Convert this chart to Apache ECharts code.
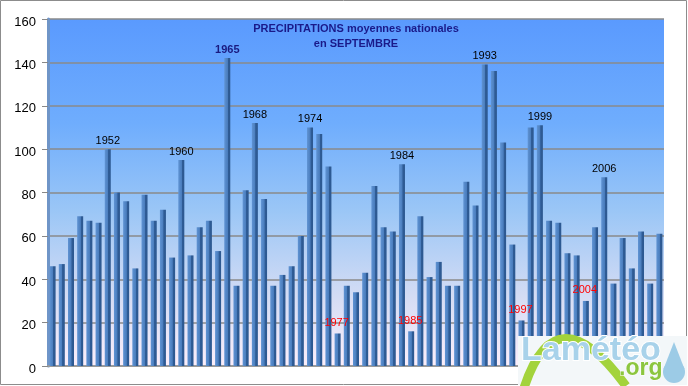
<!DOCTYPE html>
<html><head><meta charset="utf-8">
<script src="https://cdn.jsdelivr.net/npm/echarts@6/dist/echarts.min.js"></script>
<style>html,body{margin:0;padding:0;background:#fff}#c{width:688px;height:386px}</style>
</head><body><div id="c"></div>
<script>
const years = ['1946','1947','1948','1949','1950','1951','1952','1953','1954','1955','1956','1957','1958','1959','1960','1961','1962','1963','1964','1965','1966','1967','1968','1969','1970','1971','1972','1973','1974','1975','1976','1977','1978','1979','1980','1981','1982','1983','1984','1985','1986','1987','1988','1989','1990','1991','1992','1993','1994','1995','1996','1997','1998','1999','2000','2001','2002','2003','2004','2005','2006','2007','2008','2009','2010','2011','2012'];
const precip = [46,47,59,69,67,66,100,80,76,45,79,67,72,50,95,51,64,67,53,142,37,81,112,77,37,42,46,60,110,107,92,15,37,34,43,83,64,62,93,16,69,41,48,37,37,85,74,139,136,103,56,21,110,111,67,66,52,51,30,64,87,38,59,45,62,38,61];
const wetYears = ['1952','1960','1965','1968','1974','1984','1993','1999','2006'];
const dryYears = ['1977','1985','1997','2004'];
const recordYear = '1965';
const yTicks = [0,20,40,60,80,100,120,140,160];

const chart = echarts.init(document.getElementById('c'), null, {renderer:'canvas'});
const barColor = new echarts.graphic.LinearGradient(0,0,1,0,[
  {offset:0,color:'#5f93d3'},{offset:0.55,color:'#4a7dbd'},{offset:0.62,color:'#2f5c96'},{offset:1,color:'#2c5890'}
]);
const data = precip.map((v,i)=>{
  const y = years[i];
  const d = {value:v};
  if (wetYears.includes(y)) {
    d.label = {show:true,position:'top',distance:3,formatter:y,
      color: y===recordYear ? '#1a1a80' : '#000',
      fontWeight: y===recordYear ? 'bold' : 'normal',
      fontSize:11,fontFamily:'Liberation Sans, Arial, sans-serif'};
  } else if (dryYears.includes(y)) {
    d.label = {show:true,position:'top',distance:5,offset:[-1,0],formatter:y,
      color:'#ff0000',fontSize:11,fontFamily:'Liberation Sans, Arial, sans-serif'};
  }
  return d;
});

chart.setOption({
  animation:false,
  title:{text:'PRECIPITATIONS moyennes nationales\nen SEPTEMBRE',left:351,top:16,textAlign:'center',
    textStyle:{fontSize:11,fontWeight:'bold',color:'#1a1a8a',lineHeight:15,fontFamily:'Liberation Sans, Arial, sans-serif'}},
  grid:{left:48,right:24,top:19,bottom:20,show:true,borderWidth:0,
    backgroundColor:new echarts.graphic.LinearGradient(0,0,0,1,[
      {offset:0,color:'#5a9afe'},{offset:0.3,color:'#6fadfd'},{offset:0.55,color:'#9ac6f6'},{offset:0.8,color:'#d4dcf4'},{offset:1,color:'#fbeefa'}
    ])},
  xAxis:{type:'category',data:years,boundaryGap:true,
    axisLabel:{show:false},axisTick:{show:false},
    axisLine:{show:true,lineStyle:{color:'#9a9a9a',width:2}}},
  yAxis:{type:'value',min:0,max:160,interval:20,
    axisLabel:{margin:12,
      formatter:(v)=>yTicks.includes(v)?'{t|'+v+'}':'',
      rich:{t:{color:'#000',fontSize:13,padding:[6,0,0,0],fontFamily:'Liberation Sans, Arial, sans-serif'}}},
    axisTick:{show:true,length:6,lineStyle:{color:'#888'}},
    axisLine:{show:true,lineStyle:{color:'#6f95c8',width:3}},
    splitLine:{show:true,lineStyle:{color:'#8a8a8a',width:1.5}}},
  series:[{type:'bar',data:data,barWidth:6,itemStyle:{color:barColor},z:3}],
  graphic:[
    {type:'rect',shape:{x:0.5,y:0.5,width:686,height:384},style:{fill:'none',stroke:'#8c8c8c',lineWidth:1},z:-1,silent:true},
    {type:'rect',shape:{x:518,y:336,width:169,height:49},style:{fill:'#f3f7f9'},z:100,silent:true},
    {type:'bezierCurve',shape:{x1:524,y1:388,x2:626,y2:386,cpx1:556,cpy1:290},style:{fill:'none',stroke:'#a3d33c',lineWidth:9},z:101,silent:true},
    {type:'text',style:{text:'Lamétéo',x:521,y:334,font:'bold 34px Liberation Sans, Arial, sans-serif',fill:'#a8d2ea',stroke:'#ffffff',lineWidth:2},z:102,silent:true},
    {type:'text',style:{text:'.org',x:619,y:357,font:'bold 23px Liberation Sans, Arial, sans-serif',fill:'#8cc63f',stroke:'#ffffff',lineWidth:1},z:102,silent:true},
    {type:'circle',shape:{cx:674,cy:372,r:11},style:{fill:'#9ccbe6'},z:102,silent:true},
    {type:'polygon',shape:{points:[[674,342],[663.5,369],[684.5,369]]},style:{fill:'#9ccbe6'},z:102,silent:true}
  ]
});
</script></body></html>
